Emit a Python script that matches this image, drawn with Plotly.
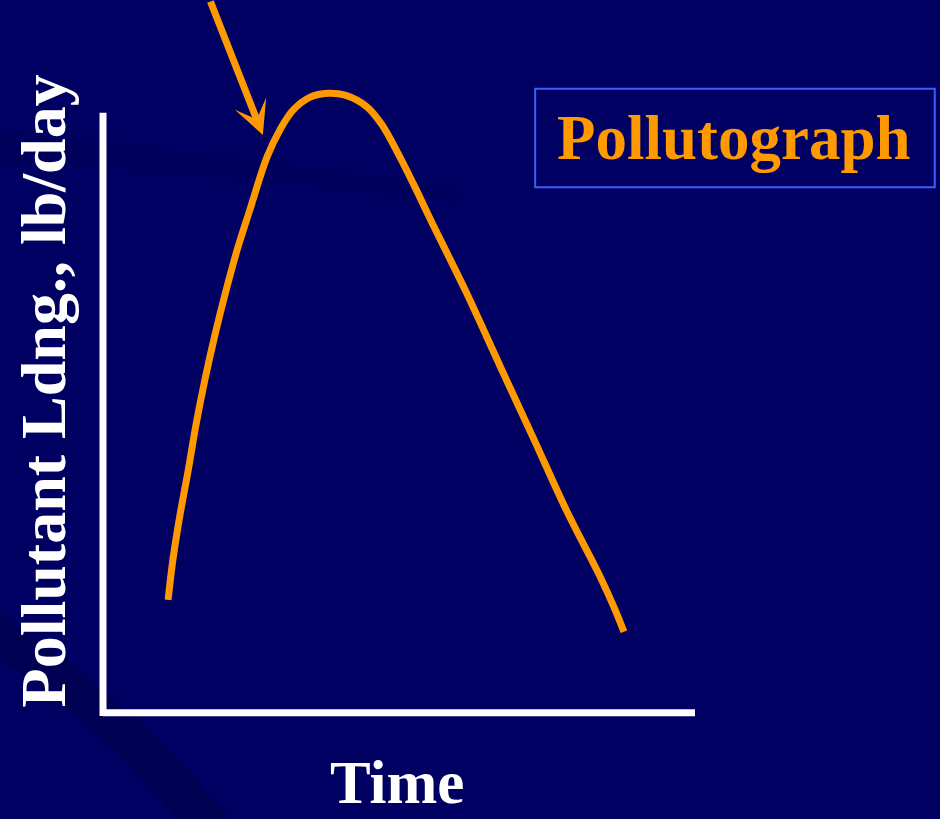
import plotly.graph_objects as go

# ---- data (conceptual pollutograph, arbitrary units) ----
time = [1.10, 1.18, 1.30, 1.44, 1.57, 1.72, 1.89, 2.08, 2.28, 2.48, 2.77, 2.99,
        3.21, 3.50, 3.80, 4.09, 4.46, 4.71, 4.97, 5.27, 5.57, 5.86, 6.15, 6.71,
        7.26, 7.84, 8.40, 8.64, 8.80]
loading = [1.72, 2.33, 3.02, 3.71, 4.40, 5.09, 5.78, 6.47, 7.13, 7.70, 8.51, 8.93,
           9.23, 9.43, 9.49, 9.46, 9.28, 9.01, 8.59, 8.05, 7.48, 6.95, 6.41, 5.30,
           4.22, 3.07, 2.07, 1.59, 1.23]

x_title = "Time"
y_title = "Pollutant Ldng., lb/day"
label = "Pollutograph"

BG = "#000062"
ORANGE = "#FF9900"
FONT = "Liberation Serif"

fig = go.Figure()

fig.add_trace(go.Scatter(
    x=time, y=loading, mode="lines",
    line=dict(color=ORANGE, width=7, shape="spline", smoothing=1.0),
    hoverinfo="skip", showlegend=False,
))

shapes = [
    # faint background streaks
    dict(type="path", xref="x", yref="y", layer="below",
         path="M -1.74,8.9 Q 2,8.6 6,8.0 L 6,7.8 Q 2,8.3 -1.74,8.4 Z",
         fillcolor="#000050", line=dict(width=0), opacity=0.3),
    dict(type="path", xref="x", yref="y", layer="below",
         path="M -1.74,1.5 Q 0.5,0.2 2.2,-1.7 L 1.3,-1.7 Q 0,-0.2 -1.74,0.8 Z",
         fillcolor="#000048", line=dict(width=0), opacity=0.6),
    # axis lines
    dict(type="line", xref="x", yref="y", x0=0, x1=0, y0=-0.06, y1=9.19,
         line=dict(color="white", width=7)),
    dict(type="line", xref="x", yref="y", x0=0, x1=10.0, y0=-0.01, y1=-0.01,
         line=dict(color="white", width=7)),
    # label box
    dict(type="rect", xref="x", yref="y", x0=7.30, x1=14.05, y0=8.05, y1=9.56,
         line=dict(color="#3b5ef5", width=2), fillcolor="rgba(0,0,0,0)"),
]

annotations = [
    dict(x=-1.01, y=4.92, xref="x", yref="y", text=y_title, textangle=-90,
         showarrow=False, xanchor="center", yanchor="middle",
         font=dict(family=FONT, size=64, color="white", weight="bold")),
    dict(x=4.96, y=(712 - 782) / 65.2, xref="x", yref="y", text=x_title,
         showarrow=False, xanchor="center", yanchor="middle",
         font=dict(family=FONT, size=61, color="white", weight="bold")),
    dict(x=10.66, y=8.80, xref="x", yref="y", text=label,
         showarrow=False, xanchor="center", yanchor="middle",
         font=dict(family=FONT, size=63, color=ORANGE, weight="bold")),
    dict(x=2.70, y=8.85, xref="x", yref="y", text="", showarrow=True,
         ax=-53, ay=-135, arrowhead=3, arrowsize=0.8, arrowwidth=7,
         arrowcolor=ORANGE, standoff=0),
]

fig.update_layout(
    width=940, height=819,
    margin=dict(l=0, r=0, t=0, b=0),
    paper_bgcolor=BG, plot_bgcolor=BG,
    xaxis=dict(range=[-103 / 59.2, (940 - 103) / 59.2], visible=False, fixedrange=True),
    yaxis=dict(range=[-(819 - 712) / 65.2, 712 / 65.2], visible=False, fixedrange=True),
    shapes=shapes, annotations=annotations,
    showlegend=False,
)

fig.write_html(
    "out.html",
    config={"displayModeBar": False},
    post_script="document.body.style.margin='0';document.body.style.padding='0';"
                "document.body.style.background='" + BG + "';",
)
